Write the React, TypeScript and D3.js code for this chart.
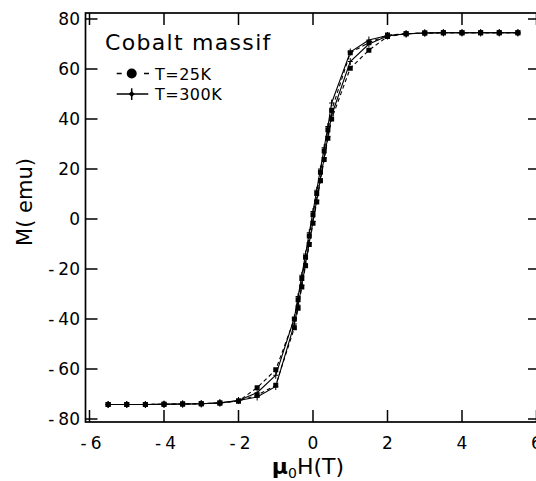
import React from "react";
import * as d3 from "d3";

// Applied field grid (T), ascending branch order
const H_UP = [-5.5, -5, -4.5, -4, -3.5, -3, -2.5, -2, -1.5, -1, -0.5, -0.4, -0.3, -0.2, -0.1, 0, 0.1, 0.2, 0.3, 0.4, 0.5, 1, 1.5, 2, 2.5, 3, 3.5, 4, 4.5, 5, 5.5];
// descending branch order
const H_DOWN = [5.5, 5, 4.5, 4, 3.5, 3, 2.5, 2, 1.5, 1, 0.5, 0.4, 0.3, 0.2, 0.1, 0, -0.1, -0.2, -0.3, -0.4, -0.5, -1, -1.5, -2, -2.5, -3, -3.5, -4, -4.5, -5, -5.5];

// T = 25K
const M25_UP = [-74.2, -74.2, -74.2, -74.1, -74.0, -73.9, -73.6, -72.8, -70.5, -66.5, -43.5, -35.7, -27.2, -18.7, -10.2, -1.7, 6.8, 15.3, 23.8, 32.3, 40.0, 60.3, 67.5, 73.0, 74.1, 74.4, 74.5, 74.5, 74.5, 74.5, 74.5];
const M25_DOWN = [74.5, 74.5, 74.5, 74.5, 74.5, 74.4, 74.1, 73.6, 70.5, 66.5, 43.5, 35.7, 27.2, 18.7, 10.2, 1.7, -6.8, -15.3, -23.8, -32.3, -40.0, -60.3, -67.5, -72.8, -73.6, -73.9, -74.0, -74.1, -74.2, -74.2, -74.2];

// T = 300K
const M300_UP = [-74.2, -74.2, -74.2, -74.1, -74.0, -73.9, -73.5, -72.6, -71.2, -67.0, -42.0, -34.5, -26.5, -18.0, -9.5, -1.0, 7.5, 16.0, 24.5, 33.0, 41.5, 63.0, 70.0, 73.2, 74.1, 74.4, 74.5, 74.5, 74.5, 74.5, 74.5];
const M300_DOWN = [74.5, 74.5, 74.5, 74.5, 74.5, 74.4, 74.0, 73.4, 71.6, 66.8, 46.4, 37.0, 28.5, 20.0, 11.5, 3.0, -5.5, -14.0, -22.5, -31.0, -39.5, -62.5, -69.5, -72.6, -73.6, -73.9, -74.0, -74.1, -74.2, -74.2, -74.2];

const X_TICKS = [-6, -4, -2, 0, 2, 4, 6];
const Y_TICKS = [-80, -60, -40, -20, 0, 20, 40, 60, 80];

const TITLE = "Cobalt massif";
const LEGEND = ["T=25K", "T=300K"];
const X_LABEL = "H(T)";
const Y_LABEL = "M( emu)";

const W = 536;
const H = 481;
const FONT = "'DejaVu Sans', Verdana, sans-serif";

type Pt = [number, number];

function zipPts(hs: number[], ms: number[]): Pt[] {
  return hs.map((h, i) => [h, ms[i]] as Pt);
}

function Label({ v, x, y, anchor }: { v: number; x: number; y: number; anchor: "end" | "middle" }) {
  const neg = v < 0;
  const abs = Math.abs(v).toString();
  return (
    <text x={x} y={y} textAnchor={anchor} fontFamily={FONT} fontSize={17} fill="#000">
      {neg ? <tspan>-</tspan> : null}
      <tspan dx={neg ? 4 : 0}>{abs}</tspan>
    </text>
  );
}

export default function App() {
  const x = d3.scaleLinear().domain([-6, 6]).range([89.5, 536.5]);
  const y = d3.scaleLinear().domain([-80, 80]).range([419, 19]);
  const line = d3
    .line<Pt>()
    .x((d) => x(d[0]))
    .y((d) => y(d[1]));

  const b25 = [zipPts(H_UP, M25_UP), zipPts(H_DOWN, M25_DOWN)];
  const b300 = [zipPts(H_UP, M300_UP), zipPts(H_DOWN, M300_DOWN)];

  const left = 85.5;
  const right = 540;
  const top = 13;
  const bottom = 422;
  const tick = 12;

  return (
    <svg
      width={W}
      height={H}
      style={{ position: "absolute", left: 0, top: 0, background: "#fff" }}
    >
      <rect x={0} y={0} width={W} height={H} fill="#fff" />
      {/* data: 300K solid */}
      {b300.map((pts, i) => (
        <path key={"l300" + i} d={line(pts) || ""} fill="none" stroke="#000" strokeWidth={1.1} />
      ))}
      {b300.map((pts, i) =>
        pts.map((p, j) => (
          <g key={"p300" + i + "-" + j} stroke="#000" strokeWidth={1}>
            <line x1={x(p[0])} x2={x(p[0])} y1={y(p[1]) - 3.5} y2={y(p[1]) + 3.5} />
            <line x1={x(p[0]) - 2.5} x2={x(p[0]) + 2.5} y1={y(p[1])} y2={y(p[1])} />
          </g>
        ))
      )}
      {/* data: 25K dashed with squares */}
      {b25.map((pts, i) => (
        <path
          key={"l25" + i}
          d={line(pts) || ""}
          fill="none"
          stroke="#000"
          strokeWidth={1.1}
          strokeDasharray="4,3"
        />
      ))}
      {b25.map((pts, i) =>
        pts.map((p, j) => (
          <rect
            key={"p25" + i + "-" + j}
            x={x(p[0]) - 2.5}
            y={y(p[1]) - 2.5}
            width={5}
            height={5}
            fill="#000"
          />
        ))
      )}

      {/* frame */}
      <rect
        x={left}
        y={top}
        width={right - left}
        height={bottom - top}
        fill="none"
        stroke="#000"
        strokeWidth={1.7}
      />
      {X_TICKS.map((t) => (
        <g key={"xt" + t} stroke="#000" strokeWidth={1.5}>
          <line x1={x(t)} x2={x(t)} y1={bottom} y2={bottom - tick} />
          <line x1={x(t)} x2={x(t)} y1={top} y2={top + tick} />
        </g>
      ))}
      {Y_TICKS.map((t) => (
        <g key={"yt" + t} stroke="#000" strokeWidth={1.5}>
          <line x1={left} x2={left + tick} y1={y(t)} y2={y(t)} />
          <line x1={right} x2={right - tick} y1={y(t)} y2={y(t)} />
        </g>
      ))}
      {Y_TICKS.map((t) => (
        <Label key={"yl" + t} v={t} x={80} y={y(t) + 6} anchor="end" />
      ))}
      {X_TICKS.map((t) => (
        <Label key={"xl" + t} v={t} x={x(t) + (t < 0 ? 1.5 : 0) - (t === 6 ? 0 : 0)} y={449} anchor="middle" />
      ))}

      {/* axis titles */}
      <text
        transform={`translate(32,202) rotate(-90)`}
        textAnchor="middle"
        fontFamily={FONT}
        fontSize={21}
        fill="#000"
      >
        {Y_LABEL}
      </text>
      <text x={308} y={474} textAnchor="middle" fontFamily={FONT} fontSize={22} fill="#000">
        <tspan fontWeight="bold">μ</tspan>
        <tspan fontSize={14} dy={4}>0</tspan>
        <tspan dy={-4}>{X_LABEL}</tspan>
      </text>

      {/* legend */}
      <text x={105} y={50} fontFamily={FONT} fontSize={22} letterSpacing={1.3} fill="#000">
        {TITLE}
      </text>
      <line x1={116.7} x2={149} y1={73.5} y2={73.5} stroke="#000" strokeWidth={1.5} strokeDasharray="5,22.3,5" />
      <circle cx={131.7} cy={73.5} r={5} fill="#000" />
      <text x={155} y={79.5} fontFamily={FONT} fontSize={16} letterSpacing={0.5} fill="#000">
        {LEGEND[0]}
      </text>
      <line x1={116.7} x2={148.3} y1={94} y2={94} stroke="#000" strokeWidth={1.5} />
      <line x1={131.7} x2={131.7} y1={88.3} y2={100} stroke="#000" strokeWidth={1.5} />
      <path d="M128.7,94 L131.7,91 L134.7,94 L131.7,97 Z" fill="#000" />
      <text x={155} y={100} fontFamily={FONT} fontSize={16} letterSpacing={0.5} fill="#000">
        {LEGEND[1]}
      </text>
    </svg>
  );
}
